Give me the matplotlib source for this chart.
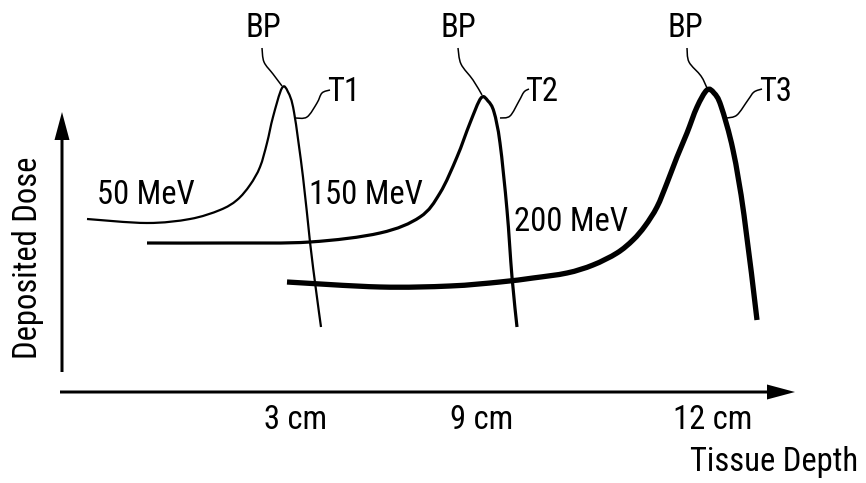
import numpy as np
import matplotlib
matplotlib.use("Agg")
import matplotlib.pyplot as plt
from matplotlib.path import Path
from matplotlib.patches import PathPatch, FancyArrow

plt.rcParams['font.family'] = ['Roboto Condensed', 'Liberation Sans', 'DejaVu Sans']

# drawing is laid out on the picture's own pixel grid (y grows downwards)
# Bragg curves: depth position / dose position
c50_x = [87, 147, 190, 220, 237, 250, 260, 267, 273, 282, 288, 294, 303, 310, 316, 321]
c50_y = [219, 223, 219, 210, 200, 185, 167, 143, 117, 88, 92, 112, 177, 242, 290, 327]

c150_x = [147, 230, 310, 380, 420, 440, 457, 470, 481, 488, 494, 500, 507, 512, 517]
c150_y = [243, 243, 242, 233, 217, 193, 157, 123, 98, 101, 112, 143, 210, 277, 327]

c200_x = [287, 380, 450, 500, 533, 567, 593, 617, 633, 645, 657, 667, 677, 687, 697,
          707, 714, 721, 733, 744, 757]
c200_y = [282, 287, 286, 282, 278, 273, 265, 253, 240, 226, 207, 183, 157, 133, 107,
          90, 93, 106, 150, 215, 320]

energies = ["50 MeV", "150 MeV", "200 MeV"]
energy_pos = [(146, 195), (366, 195), (571, 222)]

bp_pos = [(263, 28), (458, 28), (685, 28)]
bp_leaders = [
    ([262, 264, 273, 282], [48, 62, 74, 86]),
    ([458, 461, 473, 482], [48, 64, 80, 95]),
    ([687, 689, 701, 707], [48, 62, 76, 88]),
]
t_labels = ["T1", "T2", "T3"]
t_pos = [(344, 92), (542, 92), (776, 92)]
t_leaders = [
    ([295, 307, 317, 322, 330], [118, 117, 103, 93, 90]),
    ([500, 510, 519, 524, 529], [118, 116, 101, 92, 89]),
    ([727, 737, 748, 754, 762], [118, 115, 100, 92, 89]),
]

depth_ticks = ["3 cm", "9 cm", "12 cm"]
depth_tick_x = [296, 482, 713]


def smooth_path(xs, ys):
    # Catmull-Rom through the read points, drawn as cubic beziers
    p = np.column_stack([xs, ys]).astype(float)
    p = np.vstack([p[0], p, p[-1]])
    verts = [p[1]]
    codes = [Path.MOVETO]
    for i in range(1, len(p) - 2):
        c1 = p[i] + (p[i + 1] - p[i - 1]) / 6
        c2 = p[i + 1] - (p[i + 2] - p[i]) / 6
        verts += [c1, c2, p[i + 1]]
        codes += [Path.CURVE4] * 3
    return Path(verts, codes)


fig = plt.figure(figsize=(8.66, 4.83), dpi=100)
ax = fig.add_axes([0, 0, 1, 1])
ax.set_xlim(0, 866)
ax.set_ylim(483, 0)
ax.axis('off')

for xs, ys, lw in [(c50_x, c50_y, 1.6), (c150_x, c150_y, 2.3), (c200_x, c200_y, 3.8)]:
    ax.add_patch(PathPatch(smooth_path(xs, ys), fill=False, lw=lw, color='black',
                           capstyle='butt', joinstyle='round'))

for xs, ys in bp_leaders + t_leaders:
    ax.add_patch(PathPatch(smooth_path(xs, ys), fill=False, lw=1.1, color='black'))

fs = 23.5
for txt, (x, y) in zip(energies, energy_pos):
    ax.text(x, y, txt, fontsize=fs, ha='center', va='center')
for (x, y) in bp_pos:
    ax.text(x, y, "BP", fontsize=fs, ha='center', va='center')
for txt, (x, y) in zip(t_labels, t_pos):
    ax.text(x, y, txt, fontsize=fs, ha='center', va='center')

# axes arrows
ax.add_patch(FancyArrow(62, 372, 0, -260, width=3, head_width=15, head_length=28,
                        length_includes_head=True, color='black', lw=0))
ax.add_patch(FancyArrow(60, 392, 735, 0, width=3, head_width=15, head_length=28,
                        length_includes_head=True, color='black', lw=0))

ax.text(28, 258, "Deposited Dose", fontsize=fs, rotation=90, ha='center', va='center')
for txt, x in zip(depth_ticks, depth_tick_x):
    ax.text(x, 420, txt, fontsize=fs, ha='center', va='center')
ax.text(858, 462, "Tissue Depth", fontsize=fs, ha='right', va='center')

fig.savefig("out.png", dpi=100, facecolor='white')
